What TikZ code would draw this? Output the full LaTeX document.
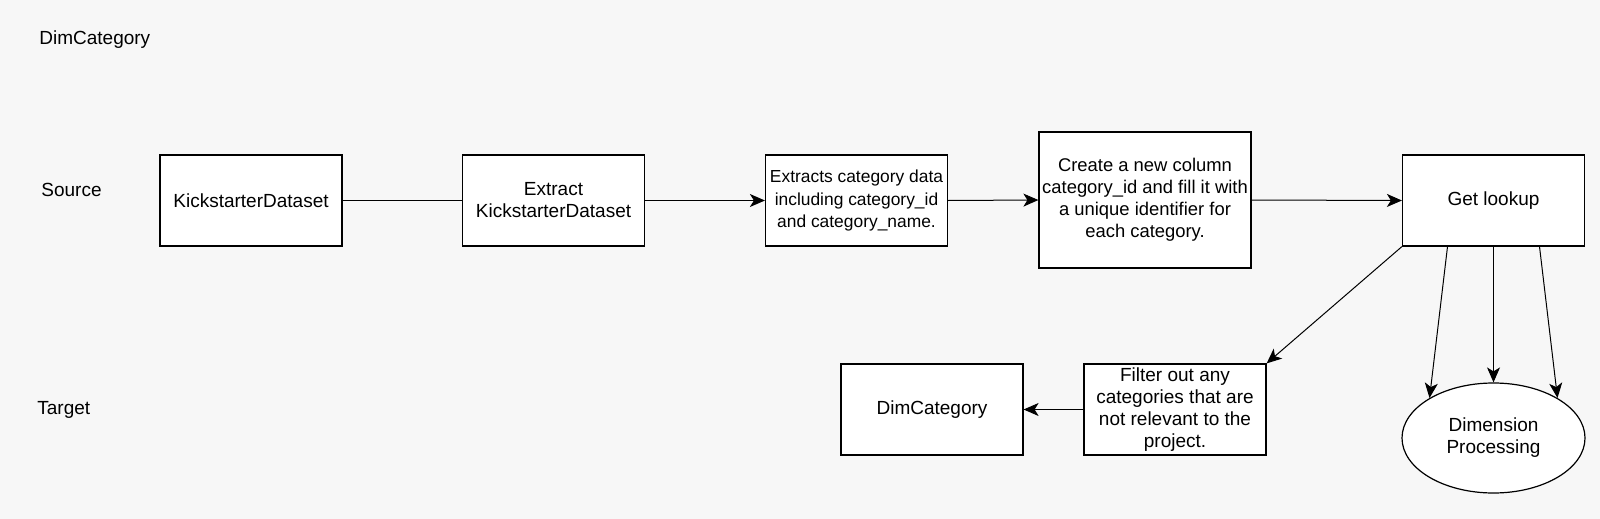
\documentclass[tikz,border=0pt]{standalone}
\usepackage{fontspec}
\setmainfont{Liberation Sans}
\usetikzlibrary{arrows.meta,calc,shapes.geometric}
\definecolor{canvas}{HTML}{F7F7F7}

\begin{document}
\begin{tikzpicture}[x=0.5pt,y=-0.5pt,
  box/.style={draw,fill=white,line width=0.6pt,minimum width=91pt,minimum height=45.5pt,
    align=center,inner sep=1pt,font=\fontsize{9.5}{11}\selectfont},
  flow/.style={-{Stealth[length=7.5pt,width=6.5pt,inset=2pt]},line width=0.5pt},
  lane/.style={anchor=west,inner sep=0pt,font=\fontsize{9.5}{11}\selectfont}]
   \fill[canvas] (0,0) rectangle (1600,519);
   % lane labels
   \node[lane] (title)  at (39,40)  {DimCategory};
   \node[lane] (source) at (41,190) {Source};
   \node[lane] (target) at (37,410) {Target};
   % source row
   \node[box] (dataset) at (251,200.5)  {KickstarterDataset};
   \node[box] (extract) at (553.5,200.5) {Extract\\KickstarterDataset};
   \node[box,font=\fontsize{8.7}{11}\selectfont] (catdata) at (856.5,200.5)
     {Extracts category data\\including category\_id\\and category\_name.};
   \node[box,minimum width=106pt,minimum height=68pt,font=\fontsize{9.2}{11}\selectfont] (newcol)
     at (1145,200) {Create a new column\\category\_id and fill it with\\a unique identifier for\\each category.};
   \node[box] (lookup) at (1493.5,200.5) {Get lookup};
   % target row
   \node[box] (dimcat) at (932,409.5) {DimCategory};
   \node[box] (filter) at (1175,409.5) {Filter out any\\categories that are\\not relevant to the\\project.};
   \node[box,shape=ellipse,minimum width=91.5pt,minimum height=55pt,inner sep=0pt] (proc)
     at (1493.5,438) {Dimension\\Processing};
   % connectors
   \draw[line width=0.5pt] (dataset.east) -- (extract.west);
   \draw[flow] (extract.east) -- (catdata.west);
   \draw[flow] (catdata.east) -- (newcol.west);
   \draw[flow] (newcol.east) -- (lookup.west);
   \draw[flow] (lookup.south west) -- (filter.north east);
   \draw[flow] (filter.west) -- (dimcat.east);
   \draw[flow] ($(lookup.south)+(-46,0)$) -- (proc.148);
   \draw[flow] (lookup.south) -- (proc.north);
   \draw[flow] ($(lookup.south)+(46,0)$) -- (proc.32);
\end{tikzpicture}
\end{document}
